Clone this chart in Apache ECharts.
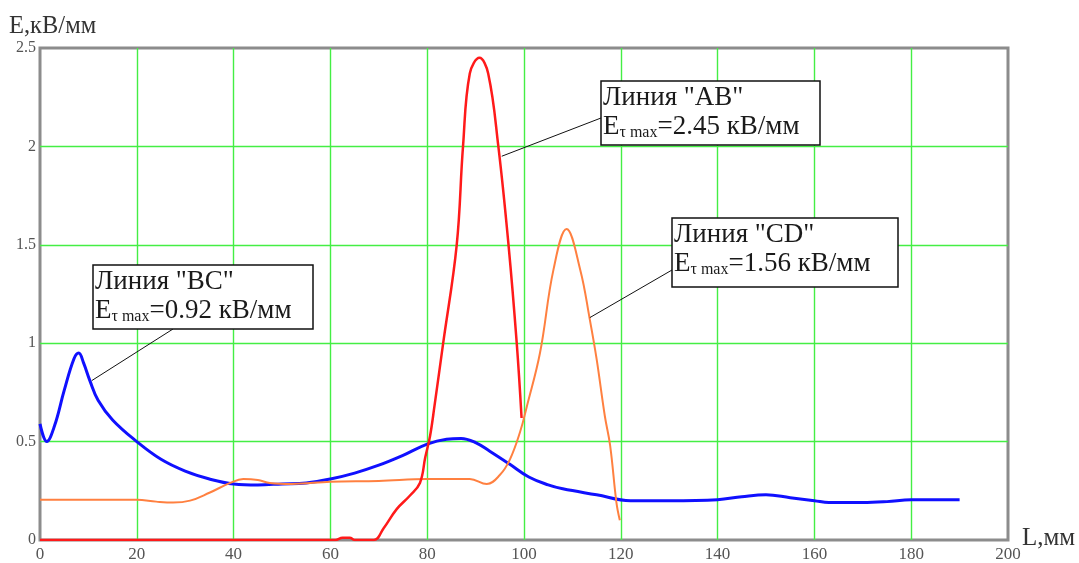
<!DOCTYPE html>
<html>
<head>
<meta charset="utf-8">
<script src="https://cdn.jsdelivr.net/npm/echarts@6/dist/echarts.min.js"></script>
<style>
html, body { margin: 0; padding: 0; background: #fff; }
#main { width: 1079px; height: 563px; }
</style>
</head>
<body>
<div id="main"></div>
<script>
// Линия "BC" (синяя)
var bcL = [0, 1.4, 3, 5, 7, 8, 9, 10.3, 12, 15, 20, 25, 30, 35, 40, 45, 50, 55, 60, 65, 70, 75, 80, 84, 87, 90, 93, 97, 101, 105, 108, 115, 122, 130, 140, 145, 150, 155, 160, 163, 170, 175, 180, 190];
var bcE = [0.59, 0.50, 0.58, 0.76, 0.92, 0.95, 0.90, 0.81, 0.71, 0.61, 0.50, 0.41, 0.35, 0.31, 0.285, 0.28, 0.285, 0.29, 0.31, 0.34, 0.38, 0.43, 0.487, 0.512, 0.516, 0.495, 0.45, 0.386, 0.32, 0.28, 0.26, 0.23, 0.20, 0.20, 0.205, 0.22, 0.23, 0.215, 0.20, 0.19, 0.19, 0.195, 0.205, 0.205];
// Линия "AB" (красная)
var abL = [0, 61, 62.5, 64, 65, 69, 71, 73.7, 76.4, 78.5, 79.6, 80.6, 81.5, 83.3, 86.1, 87.4, 88.8, 90.8, 92.6, 94.7, 96.8, 98.5, 99.5];
var abE = [0, 0, 0.012, 0.012, 0, 0, 0.06, 0.157, 0.225, 0.29, 0.42, 0.53, 0.68, 1.0, 1.5, 2.0, 2.37, 2.45, 2.37, 2.0, 1.5, 1.0, 0.62];
// Линия "CD" (оранжевая)
var cdL = [0, 20, 24, 27.5, 31, 35, 39.3, 42, 45, 47.5, 52, 60, 70, 80, 88.8, 92.3, 95, 97.1, 99.2, 100.6, 103.3, 106.1, 108.8, 111.6, 113.6, 115, 116.7, 117.8, 119.1, 119.8];
var cdE = [0.205, 0.205, 0.195, 0.19, 0.2, 0.24, 0.29, 0.31, 0.305, 0.29, 0.285, 0.296, 0.30, 0.31, 0.31, 0.284, 0.33, 0.41, 0.55, 0.68, 0.95, 1.375, 1.58, 1.375, 1.12, 0.92, 0.63, 0.48, 0.19, 0.10];

var xTicks = [0, 20, 40, 60, 80, 100, 120, 140, 160, 180, 200];
var yTicks = [0, 0.5, 1, 1.5, 2, 2.5];

// подписи: название, значение, точка на кривой (L, E), рамка, начало выноски
var notes = [
	{ name: 'AB', val: '2.45', at: [95.4, 1.95], box: [601, 81, 219, 64], from: [601, 118] },
	{ name: 'BC', val: '0.92', at: [10.7, 0.81], box: [93, 265, 220, 64], from: [173, 329] },
	{ name: 'CD', val: '1.56', at: [113.6, 1.13], box: [672, 218, 226, 69], from: [672, 270] }
];

function pairs(xs, ys) {
	var res = [];
	for (var i = 0; i < xs.length; i++) {
		res.push([xs[i], ys[i]]);
	}
	return res;
}

var serif = 'Liberation Serif, Times New Roman, serif';
var dom = document.getElementById('main');
var myChart = echarts.init(dom);

myChart.setOption({
	animation: false,
	grid: {
		left: 40,
		right: 71,
		top: 48,
		bottom: 22,
		show: true,
		borderColor: '#8c8c8c',
		borderWidth: 3
	},
	xAxis: {
		type: 'value',
		min: 0,
		max: 200,
		interval: 20,
		axisLine: { show: false },
		axisTick: { show: false },
		splitLine: { showMinLine: false, showMaxLine: false, lineStyle: { color: '#44ee44', width: 1.4 } },
		axisLabel: {
			color: '#555',
			fontFamily: serif,
			fontSize: 17,
			margin: 6,
			formatter: function (v) { return xTicks.indexOf(v) >= 0 ? String(v) : ''; }
		}
	},
	yAxis: {
		type: 'value',
		min: 0,
		max: 2.5,
		interval: 0.5,
		axisLine: { show: false },
		axisTick: { show: false },
		splitLine: { showMinLine: false, showMaxLine: false, lineStyle: { color: '#44ee44', width: 1.4 } },
		axisLabel: {
			color: '#555',
			fontFamily: serif,
			fontSize: 16,
			margin: 4,
			formatter: function (v) { return yTicks.indexOf(v) >= 0 ? String(v) : ''; }
		}
	},
	series: [
		{
			name: 'BC',
			type: 'line',
			data: pairs(bcL, bcE),
			smooth: 0.4,
			symbol: 'none',
			lineStyle: { color: '#1010ff', width: 3 }
		},
		{
			name: 'CD',
			type: 'line',
			data: pairs(cdL, cdE),
			smooth: 0.4,
			symbol: 'none',
			lineStyle: { color: '#ff8040', width: 2 }
		},
		{
			name: 'AB',
			type: 'line',
			data: pairs(abL, abE),
			smooth: 0.4,
			symbol: 'none',
			lineStyle: { color: '#ff1a1a', width: 2.5 }
		}
	]
});

// подписи осей и рамки с выносками
var graphics = [
	{
		type: 'text', left: 9, top: 14,
		style: { text: 'E,кВ/мм', font: '24.5px ' + serif, fill: '#333' }
	},
	{
		type: 'text', left: 1022, top: 526,
		style: { text: 'L,мм', font: '25px ' + serif, fill: '#333' }
	}
];
notes.forEach(function (n) {
	var b = n.box;
	var p = myChart.convertToPixel({ gridIndex: 0 }, n.at);
	graphics.push({
		type: 'line',
		z: 10,
		shape: { x1: n.from[0], y1: n.from[1], x2: p[0], y2: p[1] },
		style: { stroke: '#111', lineWidth: 1 }
	});
	graphics.push({
		type: 'rect',
		z: 11,
		shape: { x: b[0], y: b[1], width: b[2], height: b[3] },
		style: { fill: '#fff', stroke: '#111', lineWidth: 1.5 }
	});
	graphics.push({
		type: 'text',
		z: 12,
		x: b[0] + 2,
		y: b[1] + 2,
		style: {
			text: '{n|Линия "' + n.name + '"}\n{e|E}{s|τ max}{e|=' + n.val + ' кВ/мм}',
			rich: {
				n: { fontFamily: serif, fontSize: 27, lineHeight: 29, fill: '#1a1a1a' },
				e: { fontFamily: serif, fontSize: 27, lineHeight: 29, fill: '#1a1a1a' },
				s: { fontFamily: serif, fontSize: 16, lineHeight: 14, verticalAlign: 'bottom', fill: '#1a1a1a' }
			}
		}
	});
});
myChart.setOption({ graphic: graphics });

window.onresize = function () {
	myChart.resize();
};
</script>
</body>
</html>
